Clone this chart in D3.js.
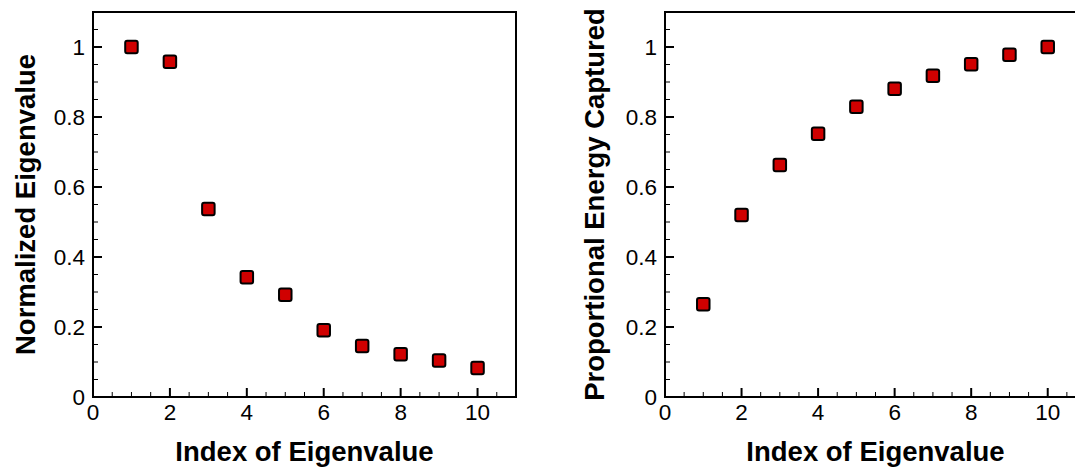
<!DOCTYPE html>
<html>
<head>
<meta charset="utf-8">
<script src="https://cdn.jsdelivr.net/npm/d3@7"></script>
<style>
  html, body { margin: 0; padding: 0; background: #fff; }
  svg { display: block; font-family: "Liberation Sans", Arial, sans-serif; }
</style>
</head>
<body>
<svg id="chart" width="1075" height="468"></svg>
<script>
// Eigenvalue index (shared by both panels)
const eigIndex = [1, 2, 3, 4, 5, 6, 7, 8, 9, 10];
// Eigenvalues normalised by the largest one
const normalizedEigenvalue = [1.0, 0.958, 0.537, 0.342, 0.292, 0.191, 0.146, 0.122, 0.104, 0.083];
// Cumulative fraction of energy captured
const energyCaptured = [0.265, 0.52, 0.663, 0.752, 0.829, 0.881, 0.918, 0.951, 0.978, 1.0];
// Tick labels
const xTicks = [0, 2, 4, 6, 8, 10];
const yTicks = [0, 0.2, 0.4, 0.6, 0.8, 1];

const svg = d3.select("#chart");

function panel(opts) {
  const { left, top, width, height, values, yLabel, yLabelX } = opts;
  const x = d3.scaleLinear().domain([0, 11]).range([left, left + width]);
  const y = d3.scaleLinear().domain([0, 1.1]).range([top + height, top]);
  const g = svg.append("g");

  // minor ticks
  const xMinor = d3.range(0, 11.01, 0.5).filter(v => !xTicks.includes(v));
  const yMinor = d3.range(0, 1.101, 0.05).map(v => +v.toFixed(2)).filter(v => !yTicks.includes(v));

  g.selectAll(".xminor").data(xMinor).join("line")
    .attr("x1", d => x(d)).attr("x2", d => x(d))
    .attr("y1", y(0)).attr("y2", y(0) - 5)
    .attr("stroke", "#000").attr("stroke-width", 1);
  g.selectAll(".yminor").data(yMinor).join("line")
    .attr("x1", x(0)).attr("x2", x(0) + 5)
    .attr("y1", d => y(d)).attr("y2", d => y(d))
    .attr("stroke", "#000").attr("stroke-width", 1);

  // major ticks
  g.selectAll(".xmajor").data(xTicks).join("line")
    .attr("x1", d => x(d)).attr("x2", d => x(d))
    .attr("y1", y(0)).attr("y2", y(0) - 9)
    .attr("stroke", "#000").attr("stroke-width", 2);
  g.selectAll(".ymajor").data(yTicks).join("line")
    .attr("x1", x(0)).attr("x2", x(0) + 9)
    .attr("y1", d => y(d)).attr("y2", d => y(d))
    .attr("stroke", "#000").attr("stroke-width", 2);

  // frame
  g.append("rect")
    .attr("x", x(0)).attr("y", y(1.1))
    .attr("width", x(11) - x(0)).attr("height", y(0) - y(1.1))
    .attr("fill", "none").attr("stroke", "#000").attr("stroke-width", 2);

  // tick labels
  g.selectAll(".xlab").data(xTicks).join("text")
    .attr("x", d => x(d)).attr("y", y(0) + 23)
    .attr("text-anchor", "middle").attr("font-size", 22.5)
    .text(d => d3.format("~g")(d));
  g.selectAll(".ylab").data(yTicks).join("text")
    .attr("x", x(0) - 8).attr("y", d => y(d) + 8)
    .attr("text-anchor", "end").attr("font-size", 22.5)
    .text(d => d3.format("~g")(d));

  // axis titles
  g.append("text")
    .attr("x", (x(0) + x(11)) / 2).attr("y", 461)
    .attr("text-anchor", "middle").attr("font-size", 27.5).attr("font-weight", "bold")
    .text("Index of Eigenvalue");
  g.append("text")
    .attr("transform", `translate(${yLabelX},${(y(0) + y(1.1)) / 2}) rotate(-90)`)
    .attr("text-anchor", "middle").attr("font-size", 27.5).attr("font-weight", "bold")
    .text(yLabel);

  // markers
  const s = 12.5;
  g.selectAll(".pt").data(eigIndex.map((k, i) => [k, values[i]])).join("rect")
    .attr("x", d => x(d[0]) - s / 2).attr("y", d => y(d[1]) - s / 2)
    .attr("width", s).attr("height", s).attr("rx", 2)
    .attr("fill", "#d00000").attr("stroke", "#000").attr("stroke-width", 2);
}

panel({ left: 93, top: 12, width: 423, height: 385, values: normalizedEigenvalue,
        yLabel: "Normalized Eigenvalue", yLabelX: 35 });
panel({ left: 665, top: 12, width: 421, height: 385, values: energyCaptured,
        yLabel: "Proportional Energy Captured", yLabelX: 604 });
</script>
</body>
</html>
